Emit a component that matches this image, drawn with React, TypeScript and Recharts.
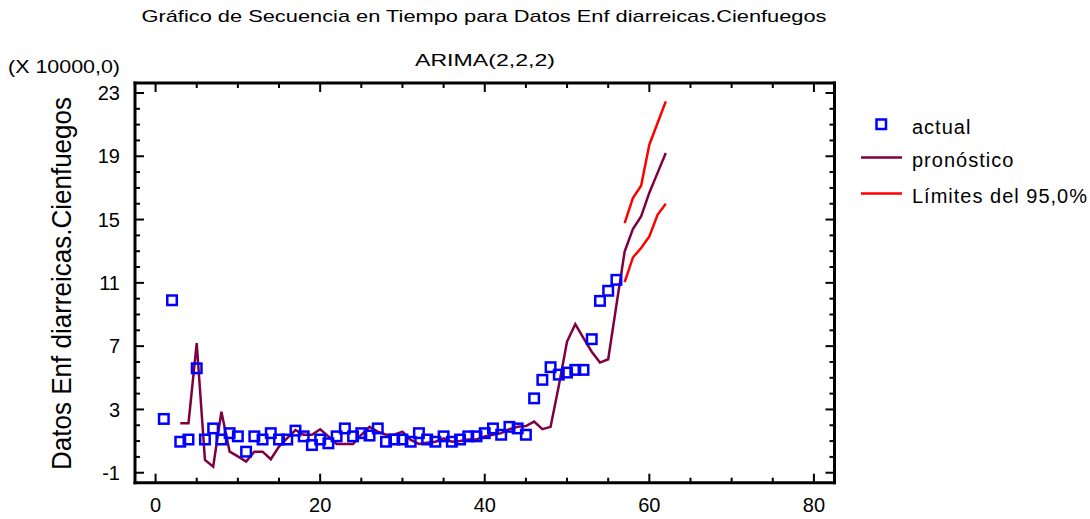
import React from 'react';
import { ComposedChart, Line, Scatter, XAxis, YAxis, Legend } from 'recharts';

const W = 1090;
const H = 519;
const FONT = '"Liberation Sans", Arial, Helvetica, sans-serif';

// Periods (time index)
const periods = [
  1, 2, 3, 4, 5, 6, 7, 8, 9, 10, 11, 12, 13, 14, 15, 16, 17, 18, 19, 20,
  21, 22, 23, 24, 25, 26, 27, 28, 29, 30, 31, 32, 33, 34, 35, 36, 37, 38, 39, 40,
  41, 42, 43, 44, 45, 46, 47, 48, 49, 50, 51, 52, 53, 54, 55, 56, 57, 58, 59, 60,
  61, 62,
];

// Observed values (x 10000), periods 1..56
const actual = [
  2.4, 9.9, 0.96, 1.1, 5.6, 1.1, 1.8, 1.1, 1.5, 1.3,
  0.33, 1.3, 1.1, 1.5, 1.1, 1.1, 1.66, 1.3, 0.75, 1.1,
  0.86, 1.3, 1.8, 1.3, 1.5, 1.35, 1.8, 0.96, 1.1, 1.1,
  0.96, 1.5, 1.1, 0.96, 1.3, 0.96, 1.1, 1.3, 1.3, 1.5,
  1.8, 1.4, 1.9, 1.8, 1.4, 3.7, 4.87, 5.67, 5.2, 5.33,
  5.5, 5.5, 7.44, 9.86, 10.5, 11.19,
];

// ARIMA(2,2,2) forecasts, periods 3..62
const forecastStart = 3;
const forecast = [
  2.13, 2.13, 7.19, -0.19, -0.62, 2.86, 0.33, 0.03, -0.3, 0.33,
  0.33, -0.15, 0.65, 1.18, 1.7, 1.4, 1.4, 1.75, 1.3, 0.82,
  0.82, 0.82, 1.4, 1.9, 1.6, 1.4, 1.4, 1.6, 1.07, 0.82,
  0.9, 0.96, 1.18, 0.96, 1.0, 1.1, 1.1, 1.3, 1.4, 1.5,
  1.75, 1.9, 1.95, 2.23, 1.75, 1.9, 4.5, 7.29, 8.39, 7.5,
  6.65, 5.96, 6.17, 9.6, 12.98, 14.4, 15.2, 16.7, 17.95, 19.2,
];

// 95% limits, periods 57..62
const limitStart = 57;
const upperLimit = [14.78, 16.36, 17.14, 19.73, 21.1, 22.47];
const lowerLimit = [11.05, 12.6, 13.2, 13.93, 15.3, 16.0];

// Axis ticks
const xMajorTicks = [0, 20, 40, 60, 80];
const xAllTicks = [0, 5, 10, 15, 20, 25, 30, 35, 40, 45, 50, 55, 60, 65, 70, 75, 80];
const yMajorTicks = [-1, 3, 7, 11, 15, 19, 23];
const yAllTicks = [-1, 0, 1, 2, 3, 4, 5, 6, 7, 8, 9, 10, 11, 12, 13, 14, 15, 16, 17, 18, 19, 20, 21, 22, 23];
const X_DOMAIN: [number, number] = [-2.5, 82.5];
const Y_DOMAIN: [number, number] = [-1.63, 23.63];

// Texts
const titleText = 'Gráfico de Secuencia en Tiempo para Datos Enf diarreicas.Cienfuegos';
const subtitleText = 'ARIMA(2,2,2)';
const scaleText = '(X 10000,0)';
const yLabelText = 'Datos Enf diarreicas.Cienfuegos';
const nameActual = 'actual';
const nameForecast = 'pronóstico';
const nameLimits = 'Límites del 95,0%';
const legendOrder = [nameActual, nameForecast, nameLimits];

const BLUE = '#0000ff';
const MAROON = '#7f0040';
const RED = '#ff0000';

const rows = periods.map((t) => {
  const fi = t - forecastStart;
  const li = t - limitStart;
  return {
    t,
    forecast: fi >= 0 && fi < forecast.length ? forecast[fi] : null,
    upper: li >= 0 && li < upperLimit.length ? upperLimit[li] : null,
    lower: li >= 0 && li < lowerLimit.length ? lowerLimit[li] : null,
  };
});

const actualPoints = actual.map((v, i) => ({ t: periods[i], actual: v }));

const HollowSquare = (props: any) => {
  const { cx, cy } = props;
  if (cx == null || cy == null || isNaN(cx) || isNaN(cy)) return null;
  const s = 9.5;
  return (
    <rect x={cx - s / 2} y={cy - s / 2} width={s} height={s} fill="none" stroke={BLUE} strokeWidth={2.5} />
  );
};

type Side = 'bottom' | 'top' | 'left' | 'right';

const makeTick = (side: Side, majors: number[], showLabel: boolean) => (props: any) => {
  const { x, y, payload } = props;
  const v = payload && payload.value;
  const isMajor = majors.indexOf(v) >= 0;
  const len = isMajor ? 9 : 5;
  let x2 = x;
  let y2 = y;
  if (side === 'bottom') y2 = y - len;
  if (side === 'top') y2 = y + len;
  if (side === 'left') x2 = x + len;
  if (side === 'right') x2 = x - len;
  let label = null;
  if (showLabel && isMajor) {
    if (side === 'bottom') {
      label = (
        <text x={x} y={y + 15} dy="0.72em" textAnchor="middle" fontSize={20} fontFamily={FONT} fill="#000">
          {String(v)}
        </text>
      );
    } else if (side === 'left') {
      label = (
        <text x={x - 15} y={y} dy="0.36em" textAnchor="end" fontSize={20} fontFamily={FONT} fill="#000">
          {String(v)}
        </text>
      );
    }
  }
  return (
    <g>
      <line x1={x} y1={y} x2={x2} y2={y2} stroke="#000" strokeWidth={2} />
      {label}
    </g>
  );
};

const bottomTick = makeTick('bottom', xMajorTicks, true);
const topTick = makeTick('top', xMajorTicks, false);
const leftTick = makeTick('left', yMajorTicks, true);
const rightTick = makeTick('right', yMajorTicks, false);

const LegendContent = (props: any) => {
  const payload = (props.payload || [])
    .filter((e: any) => e.type !== 'none' && legendOrder.indexOf(e.value) >= 0)
    .sort((a: any, b: any) => legendOrder.indexOf(a.value) - legendOrder.indexOf(b.value));
  const rowsY = [26, 59, 95];
  return (
    <svg width={240} height={110} style={{ overflow: 'visible', display: 'block' }}>
      {payload.map((entry: any, i: number) => {
        const y = rowsY[i] ?? 26 + i * 34;
        const color = entry.color;
        return (
          <g key={i}>
            {entry.type === 'square' ? (
              <rect x={26.5} y={y - 9.5} width={9.5} height={9.5} fill="none" stroke={color} strokeWidth={2.5} />
            ) : (
              <line x1={11} x2={52} y1={y - 4.5} y2={y - 4.5} stroke={color} strokeWidth={2.5} />
            )}
            <text x={62} y={y + 5} fontSize={20} fontFamily={FONT} fill="#000" letterSpacing={1}>
              {entry.value}
            </text>
          </g>
        );
      })}
    </svg>
  );
};

const axisLineStyle = { stroke: '#000', strokeWidth: 3, strokeLinecap: 'square' as const };

export default function App() {
  return (
    <div
      style={{
        position: 'absolute',
        left: 0,
        top: 0,
        width: W,
        height: H,
        overflow: 'hidden',
        background: '#ffffff',
        fontFamily: FONT,
      }}
    >
      <ComposedChart
        width={W}
        height={H}
        data={rows}
        margin={{ top: 82, right: 254.5, bottom: 35.3, left: 134 }}
      >
        <XAxis xAxisId="b" type="number" dataKey="t" domain={X_DOMAIN} allowDataOverflow ticks={xAllTicks}
          orientation="bottom" height={1} tickSize={0} tickMargin={0} axisLine={axisLineStyle}
          tickLine={false} tick={bottomTick} interval={0} />
        <XAxis xAxisId="t" type="number" dataKey="t" domain={X_DOMAIN} allowDataOverflow ticks={xAllTicks}
          orientation="top" height={1} tickSize={0} tickMargin={0} axisLine={axisLineStyle}
          tickLine={false} tick={topTick} interval={0} />
        <YAxis yAxisId="l" type="number" domain={Y_DOMAIN} allowDataOverflow ticks={yAllTicks}
          orientation="left" width={1} tickSize={0} tickMargin={0} axisLine={axisLineStyle}
          tickLine={false} tick={leftTick} interval={0} />
        <YAxis yAxisId="r" type="number" domain={Y_DOMAIN} allowDataOverflow ticks={yAllTicks}
          orientation="right" width={1} tickSize={0} tickMargin={0} axisLine={axisLineStyle}
          tickLine={false} tick={rightTick} interval={0} />

        <Scatter
          name={nameActual}
          data={actualPoints}
          dataKey="actual"
          xAxisId="b"
          yAxisId="l"
          fill={BLUE}
          legendType="square"
          shape={HollowSquare}
          isAnimationActive={false}
        />
        <Line
          name={nameForecast}
          dataKey="forecast"
          xAxisId="b"
          yAxisId="l"
          stroke={MAROON}
          strokeWidth={2.5}
          dot={false}
          activeDot={false}
          type="linear"
          legendType="line"
          isAnimationActive={false}
        />
        <Line
          name={nameLimits}
          dataKey="upper"
          xAxisId="b"
          yAxisId="l"
          stroke={RED}
          strokeWidth={2.5}
          dot={false}
          activeDot={false}
          type="linear"
          legendType="line"
          isAnimationActive={false}
        />
        <Line
          name="lower"
          dataKey="lower"
          xAxisId="b"
          yAxisId="l"
          stroke={RED}
          strokeWidth={2.5}
          dot={false}
          activeDot={false}
          type="linear"
          legendType="none"
          isAnimationActive={false}
        />
        <Legend
          layout="vertical"
          align="center"
          verticalAlign="middle"
          content={LegendContent}
          wrapperStyle={{ left: 850, top: 103, width: 240, height: 110 }}
        />
      </ComposedChart>

      <svg
        width={W}
        height={H}
        style={{ position: 'absolute', left: 0, top: 0, pointerEvents: 'none' }}
      >
        <text x={484} y={22} textAnchor="middle" fontSize={17} fontFamily={FONT} fill="#000"
          textLength={685} lengthAdjust="spacingAndGlyphs">{titleText}</text>
        <text x={485} y={66} textAnchor="middle" fontSize={17} fontFamily={FONT} fill="#000"
          textLength={140} lengthAdjust="spacingAndGlyphs">{subtitleText}</text>
        <text x={8} y={73} fontSize={18} fontFamily={FONT} fill="#000"
          textLength={112} lengthAdjust="spacingAndGlyphs">{scaleText}</text>
        <text transform="translate(71,283.5) rotate(-90)" x={0} y={0} textAnchor="middle" fontSize={28}
          fontFamily={FONT} fill="#000" textLength={373} lengthAdjust="spacingAndGlyphs">{yLabelText}</text>
      </svg>
    </div>
  );
}
